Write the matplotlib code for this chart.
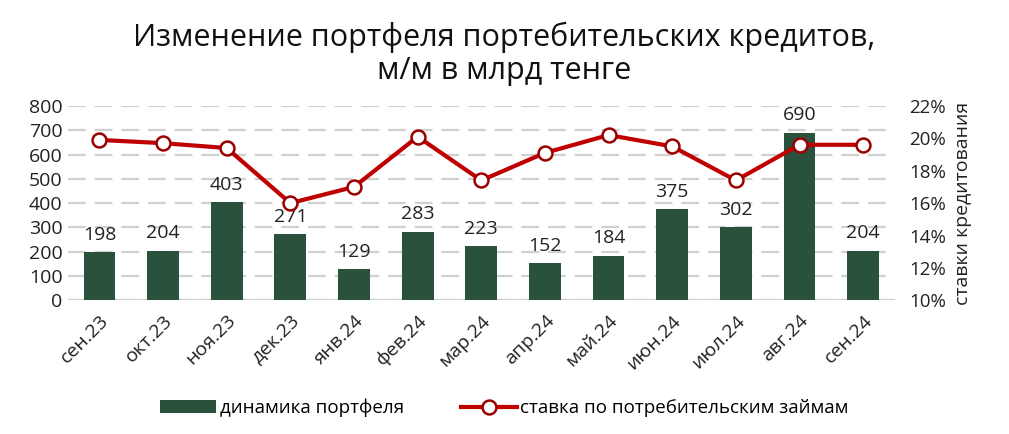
import matplotlib
matplotlib.use('Agg')
from matplotlib import pyplot as plt
from matplotlib.ticker import FuncFormatter

plt.rcParams['font.family'] = ['Open Sans', 'DejaVu Sans']

# данные
months = ['сен.23', 'окт.23', 'ноя.23', 'дек.23', 'янв.24', 'фев.24', 'мар.24',
          'апр.24', 'май.24', 'июн.24', 'июл.24', 'авг.24', 'сен.24']
portfolio = [198, 204, 403, 271, 129, 283, 223, 152, 184, 375, 302, 690, 204]
rate = [19.9, 19.7, 19.4, 16.0, 17.0, 20.1, 17.4, 19.1, 20.2, 19.5, 17.4, 19.6, 19.6]

bar_color = '#29513b'
line_color = '#c00000'
grid_color = '#d0d0d0'

fig = plt.figure(figsize=(10.09, 4.34), dpi=100)
ax = fig.add_axes([0.067, 0.308, 0.82, 0.448])
ax2 = ax.twinx()

x = list(range(len(months)))
bars = ax.bar(x, portfolio, width=0.5, color=bar_color, zorder=2,
              label='динамика портфеля')
for xi, v in zip(x, portfolio):
    ax.annotate(str(v), (xi, v), xytext=(0, 6), textcoords='offset points',
                ha='center', va='bottom', fontsize=14, color='#222222')

ax.set_ylim(0, 800)
ax.set_yticks(range(0, 801, 100))
ax.set_xlim(-0.5, 12.5)
ax.set_xticks(x)
ax.set_xticklabels(months, rotation=45, ha='right', rotation_mode='anchor',
                   fontsize=14)
ax.tick_params(axis='both', length=0, labelsize=14, colors='#222222')
ax.tick_params(axis='x', pad=8)
ax.yaxis.grid(True, color=grid_color, linestyle=(0, (8, 4)), linewidth=1.6)
ax.set_axisbelow(True)
for s in ax.spines.values():
    s.set_visible(False)
ax.axhline(0, color=grid_color, linewidth=1.6, zorder=1)

line, = ax2.plot(x, rate, color=line_color, linewidth=3, marker='o',
                 markersize=10, markerfacecolor='white',
                 markeredgecolor='#9b0000', markeredgewidth=1.8, zorder=3,
                 label='ставка по потребительским займам')
ax2.set_ylim(10, 22)
ax2.set_yticks(range(10, 23, 2))
ax2.yaxis.set_major_formatter(FuncFormatter(lambda v, p: f'{int(v)}%'))
ax2.tick_params(axis='y', length=0, labelsize=13.5, colors='#222222', pad=10)
ax2.set_ylabel('ставки кредитования', fontsize=14, color='#222222', labelpad=6)
for s in ax2.spines.values():
    s.set_visible(False)

fig.suptitle('Изменение портфеля портебительских кредитов,\nм/м в млрд тенге',
             fontsize=22, y=0.95, color='#111111', linespacing=1.15)

fig.legend(handles=[bars, line], loc='lower center', ncol=2, frameon=False,
           fontsize=13.5, bbox_to_anchor=(0.5, 0.0), handlelength=3,
           handletextpad=0.2, columnspacing=3)

fig.savefig('out.png', dpi=100)
